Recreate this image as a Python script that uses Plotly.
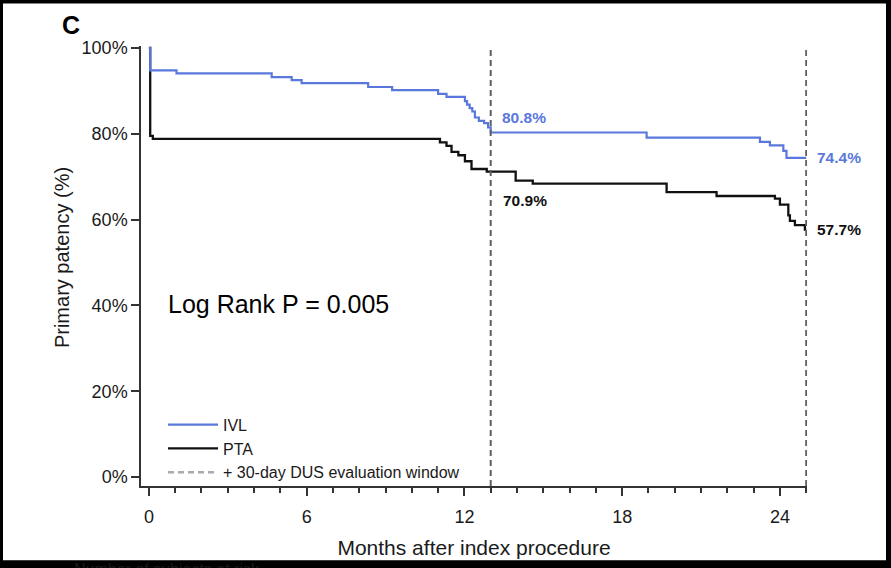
import plotly.graph_objects as go

# ---------------- data ----------------
ivl_months = [0, 0.05, 1.05, 4.67, 5.43, 5.81, 8.34, 9.25, 11.0, 11.32, 12.02, 12.10,
              12.20, 12.30, 12.40, 12.55, 12.75, 12.90, 13.0, 18.93, 23.24, 23.62,
              24.13, 24.25, 25.0]
ivl_patency = [100, 94.8, 94.1, 93.2, 92.5, 91.8, 90.9, 90.2, 89.3, 88.6, 87.6, 86.8,
               86.0, 85.2, 83.8, 83.0, 82.5, 81.5, 80.3, 79.1, 78.1, 77.3,
               76.0, 74.4, 74.4]

pta_months = [0, 0.05, 0.15, 11.07, 11.32, 11.51, 11.77, 12.02, 12.27, 12.85, 13.95,
              14.6, 19.69, 21.59, 23.81, 24.0, 24.32, 24.38, 24.57, 24.95, 25.0]
pta_patency = [100, 79.5, 78.8, 78.0, 77.2, 75.8, 75.0, 73.6, 71.8, 71.2, 69.1,
               68.4, 66.4, 65.5, 64.9, 63.5, 61.0, 59.7, 58.7, 57.7, 57.7]

window_months = [13, 25]
label_months = [13, 13, 25, 25]
label_values = [80.8, 70.9, 74.4, 57.7]
label_groups = ["IVL", "PTA", "IVL", "PTA"]
x_tick_vals = [0, 6, 12, 18, 24]
y_tick_vals = [0, 20, 40, 60, 80, 100]
y_tick_text = [f"{v}%" for v in y_tick_vals]

BLUE = "#5a78dc"
BLACK = "#111111"
FONT = "Arial, Liberation Sans, sans-serif"

# plot area in pixels
L, R, T, B = 141, 807, 46, 490
W, H = 891, 568


def fx(p):
    return (p - L) / (R - L)


def fy(p):
    return (B - p) / (B - T)


fig = go.Figure()

fig.add_trace(go.Scatter(x=pta_months, y=pta_patency, mode="lines", name="PTA",
                         line=dict(color=BLACK, width=2.3, shape="hv"), legendrank=2))
fig.add_trace(go.Scatter(x=ivl_months, y=ivl_patency, mode="lines", name="IVL",
                         line=dict(color=BLUE, width=2.2, shape="hv"), legendrank=1))
fig.add_trace(go.Scatter(x=[None], y=[None], mode="lines",
                         name="+ 30-day DUS evaluation window",
                         line=dict(color="#aaaaaa", width=2.5, dash="6px,4px"), legendrank=3))

shapes = []
for m in window_months:
    shapes.append(dict(type="line", xref="x", yref="paper", x0=m, x1=m, y0=0, y1=1,
                       line=dict(color="#606060", width=2, dash="6px,4px"), layer="above"))

# black frame around the picture
for (x0, y0, x1, y1) in [(-5, -5, 3, H + 5), (-5, -5, W + 5, 3),
                         (886, -5, W + 5, H + 5), (-5, 565, W + 5, H + 5)]:
    shapes.append(dict(type="rect", xref="paper", yref="paper",
                       x0=fx(x0), x1=fx(x1), y0=fy(y1), y1=fy(y0),
                       fillcolor="black", line=dict(width=0), layer="above"))

annotations = []
shifts = [(9, 13), (10, -28), (9, 0), (9, 0)]
for m, v, g, (xs, ys) in zip(label_months, label_values, label_groups, shifts):
    annotations.append(dict(x=m, y=v, xref="x", yref="y", text=f"<b>{v:.1f}%</b>",
                            showarrow=False, xanchor="left", yanchor="middle",
                            xshift=xs, yshift=ys,
                            font=dict(family=FONT, size=15.5,
                                      color=BLUE if g == "IVL" else BLACK)))

annotations.append(dict(x=fx(60), y=fy(25), xref="paper", yref="paper", text="<b>C</b>",
                        showarrow=False, xanchor="left", yanchor="middle",
                        font=dict(family=FONT, size=25, color="black")))
annotations.append(dict(x=fx(166), y=fy(306), xref="paper", yref="paper",
                        text="Log Rank P = 0.005", showarrow=False,
                        xanchor="left", yanchor="middle",
                        font=dict(family=FONT, size=25, color="black")))
annotations.append(dict(x=fx(62), y=fy(260), xref="paper", yref="paper",
                        text="Primary patency (%)", showarrow=False, textangle=-90,
                        xanchor="center", yanchor="middle",
                        font=dict(family=FONT, size=20, color="#1a1a1a")))
annotations.append(dict(x=fx(72), y=fy(564), xref="paper", yref="paper",
                        text="Number of subjects at risk", showarrow=False,
                        xanchor="left", yanchor="top",
                        font=dict(family=FONT, size=16, color="#1a1a1a")))

fig.update_layout(
    width=W, height=H,
    margin=dict(l=L, r=W - R, t=T, b=H - B, pad=0),
    paper_bgcolor="white", plot_bgcolor="white",
    font=dict(family=FONT, color="#1a1a1a"),
    showlegend=True,
    legend=dict(x=fx(163), y=fy(411), xanchor="left", yanchor="top",
                bgcolor="rgba(0,0,0,0)", font=dict(family=FONT, size=16, color="#1a1a1a"),
                itemwidth=50, tracegroupgap=0),
    shapes=shapes,
    annotations=annotations,
    xaxis=dict(range=[-0.30, 25.03], tickvals=x_tick_vals, ticks="outside", ticklen=8,
               tickwidth=1.5, tickcolor="#333", showline=True, linecolor="#333",
               linewidth=1.5, showgrid=False, zeroline=False,
               tickfont=dict(family=FONT, size=18, color="#1a1a1a"),
               ticklabelstandoff=6,
               minor=dict(dtick=1, tick0=0, ticks="outside", ticklen=5, tickwidth=1.5,
                          tickcolor="#333", showgrid=False),
               title=dict(text="Months after index procedure", standoff=14,
                          font=dict(family=FONT, size=21, color="#1a1a1a"))),
    yaxis=dict(range=[-2.08, 100.46], tickmode="array", tickvals=y_tick_vals,
               ticktext=y_tick_text,
               ticks="outside", ticklen=8, tickwidth=1.5, tickcolor="#333",
               showline=True, linecolor="#333", linewidth=1.5, showgrid=False,
               zeroline=False, tickfont=dict(family=FONT, size=18, color="#1a1a1a")),
)

fig.write_html("out.html")
